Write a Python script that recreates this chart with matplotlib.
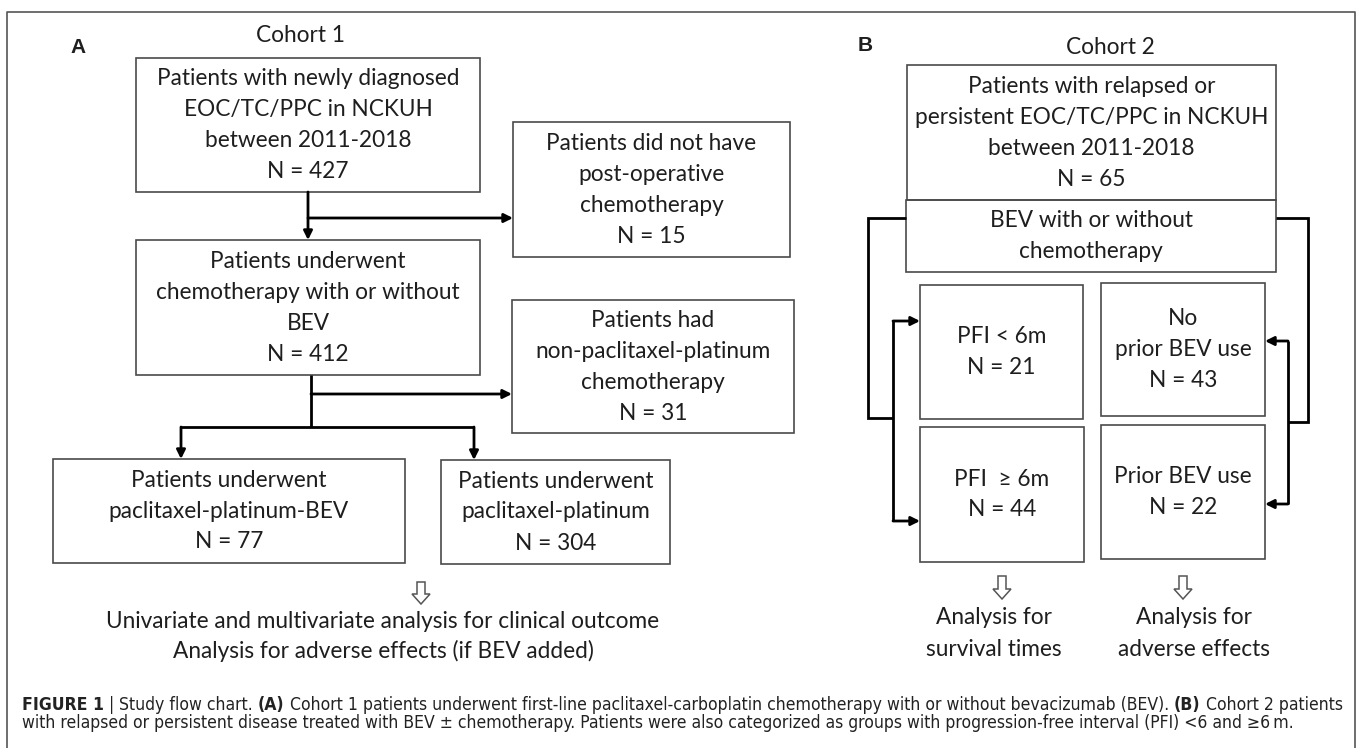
import matplotlib
matplotlib.use("Agg")
import matplotlib.pyplot as plt
from matplotlib.patches import Rectangle, Polygon

plt.rcParams['font.family'] = ['Lato', 'DejaVu Sans']

# -----------------------------
# data: box texts and counts
# -----------------------------
cohort1_title = "Cohort 1"
cohort1_text = [
    ["Patients with newly diagnosed", "EOC/TC/PPC in NCKUH", "between 2011-2018"],
    ["Patients did not have", "post-operative", "chemotherapy"],
    ["Patients underwent", "chemotherapy with or without", "BEV"],
    ["Patients had", "non-paclitaxel-platinum", "chemotherapy"],
    ["Patients underwent", "paclitaxel-platinum-BEV"],
    ["Patients underwent", "paclitaxel-platinum"],
]
cohort1_n = [427, 15, 412, 31, 77, 304]
cohort1_outcome = ["Univariate and multivariate analysis for clinical outcome",
                   "Analysis for adverse effects (if BEV added)"]

cohort2_title = "Cohort 2"
cohort2_text = [
    ["Patients with relapsed or", "persistent EOC/TC/PPC in NCKUH", "between 2011-2018"],
    ["PFI < 6m"],
    ["No", "prior BEV use"],
    ["PFI  \u2265 6m"],
    ["Prior BEV use"],
]
cohort2_n = [65, 21, 43, 44, 22]
cohort2_treat = ["BEV with or without", "chemotherapy"]
cohort2_outcome = [["Analysis for", "survival times"], ["Analysis for", "adverse effects"]]

caption_line1 = [("FIGURE 1", "bold"), ("|", "normal"), ("Study flow chart.", "normal"),
                 ("(A)", "bold"),
                 ("Cohort 1 patients underwent first-line paclitaxel-carboplatin chemotherapy with or without bevacizumab (BEV).", "normal"),
                 ("(B)", "bold"), ("Cohort 2 patients", "normal")]
caption_line2 = [("with relapsed or persistent disease treated with BEV \u00b1 chemotherapy. Patients were also categorized as groups with progression-free interval (PFI) <6 and \u22656\u2009m.", "normal")]

# -----------------------------
# layout (pixel coordinates)
# -----------------------------
boxes_a = [(136, 58, 480, 192), (513, 122, 790, 257), (136, 240, 480, 375),
           (512, 300, 794, 433), (53, 459, 405, 563), (441, 460, 670, 564)]
boxes_b = [(907, 65, 1276, 200), (920, 285, 1083, 419), (1101, 283, 1265, 416),
           (920, 427, 1084, 562), (1101, 425, 1265, 559)]
treat_box = (906, 200, 1276, 272)

TXT = "#1e1e1e"
EDGE = "#4a4a4a"
LINE_H = 31

fig = plt.figure(figsize=(13.58, 7.48), dpi=100)
ax = fig.add_axes([0, 0, 1, 1])
ax.set_xlim(0, 1358)
ax.set_ylim(748, 0)
ax.axis("off")
renderer = fig.canvas.get_renderer()


def text_w(s, size, **kw):
    t = ax.text(0, 0, s, fontsize=size, **kw)
    w = t.get_window_extent(renderer).width
    t.remove()
    return w


# fit the box font between the widths of two reference lines
r1 = 316 / text_w(cohort1_text[0][0], 16)
r2 = 342 / text_w(cohort2_text[0][1], 16)
fs = 16 * (r1 * r2) ** 0.5


def draw_box(rect, lines, lw=1.2):
    x0, y0, x1, y1 = rect
    ax.add_patch(Rectangle((x0, y0), x1 - x0, y1 - y0, fill=False, edgecolor=EDGE, lw=lw))
    cx, cy = (x0 + x1) / 2, (y0 + y1) / 2
    start = cy - (len(lines) - 1) * LINE_H / 2
    for i, s in enumerate(lines):
        ax.text(cx, start + i * LINE_H, s, ha="center", va="center", fontsize=fs, color=TXT)


def path(pts):
    xs, ys = zip(*pts)
    ax.plot(xs, ys, color="black", lw=2, solid_joinstyle="miter", solid_capstyle="butt")


def arrow(p0, p1):
    ax.annotate("", xy=p1, xytext=p0,
                arrowprops=dict(arrowstyle="-|>", color="black", lw=2,
                                mutation_scale=13, shrinkA=0, shrinkB=0))


def hollow_arrow(cx, top, bottom):
    neck = bottom - 10
    pts = [(cx - 4, top), (cx + 4, top), (cx + 4, neck), (cx + 9, neck),
           (cx, bottom), (cx - 9, neck), (cx - 4, neck)]
    ax.add_patch(Polygon(pts, closed=True, facecolor="white", edgecolor="#555555", lw=1.1))


# frame
ax.plot([7, 7, 1355, 1355], [760, 12, 12, 760], color="#555555", lw=1.2)

# -----------------------------
# panel A
# -----------------------------
ax.text(78, 47, "A", fontsize=15, fontweight="bold", ha="center", va="center",
        color=TXT, family=["Liberation Sans", "DejaVu Sans"])
ax.text(300, 35, cohort1_title, fontsize=fs, ha="center", va="center", color=TXT)
for rect, lines, n in zip(boxes_a, cohort1_text, cohort1_n):
    draw_box(rect, lines + ["N = %d" % n])

arrow((308, 192), (308, 240))
arrow((308, 218), (513, 218))
path([(311, 375), (311, 427)])
arrow((311, 394), (512, 394))
path([(181, 427), (474, 427)])
arrow((181, 427), (181, 459))
arrow((474, 427), (474, 460))

hollow_arrow(421, 582, 604)
for i, s in enumerate(cohort1_outcome):
    ax.text(383, 622 + i * 29, s, ha="center", va="center", fontsize=fs, color=TXT)

# -----------------------------
# panel B
# -----------------------------
ax.text(865, 45, "B", fontsize=15, fontweight="bold", ha="center", va="center",
        color=TXT, family=["Liberation Sans", "DejaVu Sans"])
ax.text(1110, 47, cohort2_title, fontsize=fs, ha="center", va="center", color=TXT)
draw_box(boxes_b[0], cohort2_text[0] + ["N = %d" % cohort2_n[0]])
draw_box(treat_box, cohort2_treat)
for rect, lines, n in zip(boxes_b[1:], cohort2_text[1:], cohort2_n[1:]):
    draw_box(rect, lines + ["N = %d" % n])

path([(906, 218), (868, 218), (868, 418), (893, 418)])
path([(893, 321), (893, 521)])
arrow((893, 321), (920, 321))
arrow((893, 521), (920, 521))

path([(1276, 218), (1308, 218), (1308, 422), (1288, 422)])
path([(1288, 341), (1288, 504)])
arrow((1288, 341), (1265, 341))
arrow((1288, 504), (1265, 504))

for cx in [1002, 1183]:
    hollow_arrow(cx, 576, 599)
for cx, lines in zip([994, 1194], cohort2_outcome):
    for i, s in enumerate(lines):
        ax.text(cx, 617 + i * 33, s, ha="center", va="center", fontsize=fs, color=TXT)

# -----------------------------
# caption
# -----------------------------
cap_kw = dict(family=["DejaVu Sans"], fontstretch="condensed")


def line_width(parts, size):
    sp = text_w("x x", size, **cap_kw) - text_w("xx", size, **cap_kw)
    total = sum(text_w(s, size, fontweight=w, **cap_kw) for s, w in parts)
    return total + sp * (len(parts) - 1), sp


w1, _ = line_width(caption_line1, 11)
cap_fs = 11 * 1321 / w1


def rich_text(x, y, parts, size):
    _, sp = line_width(parts, size)
    for s, w in parts:
        t = ax.text(x, y, s, fontsize=size, fontweight=w, ha="left", va="center",
                    color="#222222", **cap_kw)
        x += t.get_window_extent(renderer).width + sp


rich_text(22, 705, caption_line1, cap_fs)
rich_text(22, 723, caption_line2, cap_fs)

fig.savefig("out.png", dpi=100)
